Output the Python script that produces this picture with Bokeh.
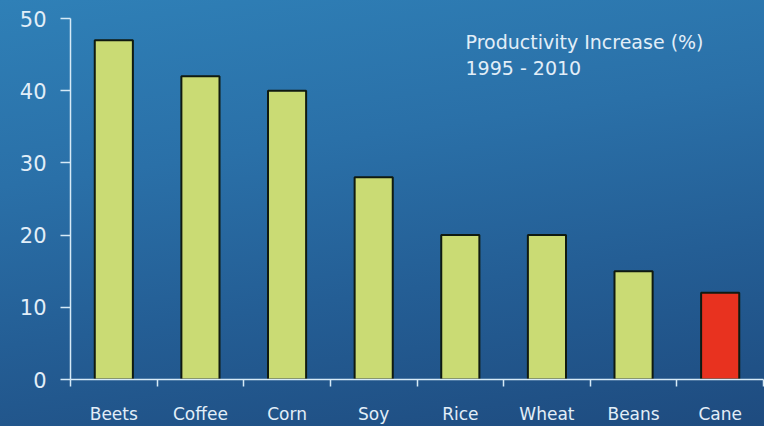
from bokeh.plotting import figure
from bokeh.models import (ColumnDataSource, Range1d, FixedTicker, Label,
                          InlineStyleSheet)
from bokeh.embed import file_html
from bokeh.resources import INLINE

# Productivity increase (%) by crop, 1995 - 2010
crops = ["Beets", "Coffee", "Corn", "Soy", "Rice", "Wheat", "Beans", "Cane"]
increase = [47, 42, 40, 28, 20, 20, 15, 12]
bar_colors = ["#cadb74"] * 7 + ["#e8321f"]
y_ticks = [0, 10, 20, 30, 40, 50]

centers = [i + 0.5 for i in range(len(crops))]
source = ColumnDataSource(dict(x=centers, top=increase, color=bar_colors))

p = figure(width=764, height=426, output_backend="svg", toolbar_location=None,
           x_range=Range1d(0, len(crops)), y_range=Range1d(0, 50),
           min_border_left=70, min_border_right=1, min_border_top=18,
           min_border_bottom=37)

# blue gradient backdrop behind the transparent canvas
p.stylesheets = [InlineStyleSheet(css=""":host {
  background: linear-gradient(172deg, #2f80b7 0%, #2a70a8 35%, #245e95 65%, #1e4b7f 100%);
}""")]
p.border_fill_color = None
p.background_fill_color = None
p.outline_line_color = None
p.grid.visible = False

p.vbar(x="x", top="top", width=0.44, bottom=0, source=source,
       fill_color="color", line_color="#101a10", line_width=2)

axis_col = "#d6eaf7"
label_col = "#e2eef8"

# x axis: labels under bars, ticks between categories
xa = p.xaxis[0]
xa.ticker = FixedTicker(ticks=centers, minor_ticks=list(range(len(crops) + 1)))
xa.major_label_overrides = {c: name for c, name in zip(centers, crops)}
xa.major_tick_out = 0
xa.major_tick_in = 0
xa.minor_tick_out = 7
xa.minor_tick_in = 0
xa.minor_tick_line_color = axis_col
xa.minor_tick_line_width = 1.5
xa.axis_line_color = axis_col
xa.axis_line_width = 1.5
xa.major_label_text_color = label_col
xa.major_label_text_font = "DejaVu Sans"
xa.major_label_text_font_size = "17px"
xa.major_label_standoff = 17

ya = p.yaxis[0]
ya.ticker = FixedTicker(ticks=y_ticks)
ya.major_tick_out = 10
ya.major_tick_in = 0
ya.minor_tick_out = 0
ya.minor_tick_in = 0
ya.major_tick_line_color = axis_col
ya.major_tick_line_width = 1.5
ya.axis_line_color = axis_col
ya.axis_line_width = 1.5
ya.major_label_text_color = label_col
ya.major_label_text_font = "DejaVu Sans"
ya.major_label_text_font_size = "21px"
ya.major_label_standoff = 14

title = Label(x=4.56, y=48.3, text="Productivity Increase (%)\n1995 - 2010",
              text_baseline="top", text_align="left",
              text_color=label_col, text_font="DejaVu Sans",
              text_font_size="19px", text_line_height=1.2)
p.add_layout(title)

open("out.html", "w").write(file_html(p, INLINE))
